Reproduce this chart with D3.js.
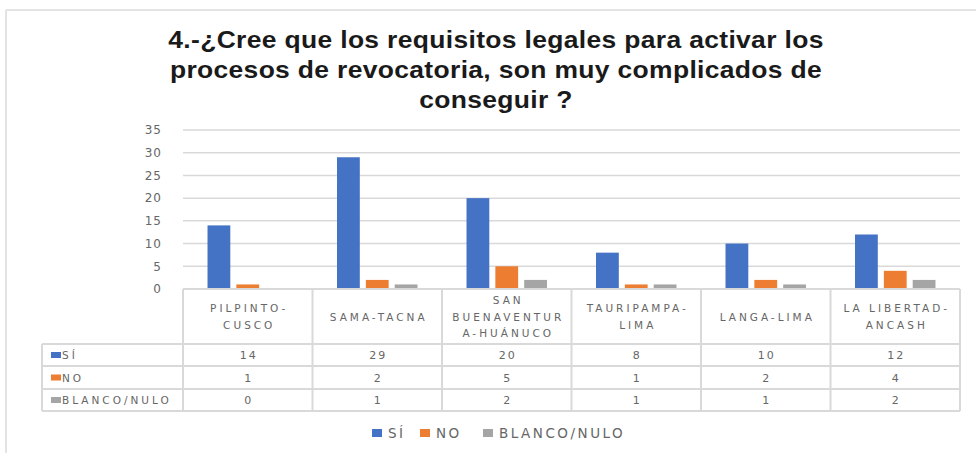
<!DOCTYPE html>
<html><head><meta charset="utf-8">
<script src="https://cdn.jsdelivr.net/npm/d3@7"></script>
<style>body{margin:0;background:#fff}svg{display:block}</style>
</head><body>
<svg id="c" width="976" height="453"></svg>
<script>
const categories = [["PILPINTO-","CUSCO"],["SAMA-TACNA"],["SAN","BUENAVENTUR","A-HUÁNUCO"],["TAURIPAMPA-","LIMA"],["LANGA-LIMA"],["LA LIBERTAD-","ANCASH"]];
const seriesNames = ["SÍ","NO","BLANCO/NULO"];
const siValues = [14,29,20,8,10,12];
const noValues = [1,2,5,1,2,4];
const blancoValues = [0,1,2,1,1,2];
const yTicks = [0,5,10,15,20,25,30,35];
const titleLines = ["4.-¿Cree que los requisitos legales para activar los","procesos de revocatoria, son muy complicados de","conseguir ?"];
const colors = ["#4472c4","#ed7d31","#a5a5a5"];
const series = [siValues,noValues,blancoValues];

(function(){
const svg = d3.select("#c");
const grid = "#d9d9d9", txt = "#666666";
svg.append("line").attr("x1",6).attr("x2",976).attr("y1",10).attr("y2",10).attr("stroke","#e3e3e3").attr("stroke-width",2);
svg.append("line").attr("x1",6).attr("x2",6).attr("y1",10).attr("y2",453).attr("stroke","#e3e3e3").attr("stroke-width",2);

const title = svg.append("g").attr("transform","translate(496,0) scale(1.15,1)")
  .append("text").attr("text-anchor","middle").attr("font-family","'Liberation Sans',Arial,sans-serif").attr("font-weight","bold").attr("font-size",23).attr("letter-spacing",0.3).attr("fill","#1a1a1a");
titleLines.forEach((t,i)=>title.append("tspan").attr("x",0).attr("y",48+i*30).text(t));

const pl = 183, pr = 960, pt = 130, pb = 289;
const x = d3.scaleBand().domain(d3.range(categories.length)).range([pl,pr]);
const y = d3.scaleLinear().domain([0,35]).range([pb,pt]);
const xs = d3.scaleBand().domain(d3.range(3)).range([0,x.bandwidth()]).paddingInner(0.21).paddingOuter(0.85);

svg.append("g").selectAll("line").data(yTicks.filter(d=>d>0)).join("line")
  .attr("x1",pl).attr("x2",pr).attr("y1",d=>y(d)).attr("y2",d=>y(d)).attr("stroke",grid).attr("stroke-width",1.5);
const yAxis = d3.axisLeft(y).tickValues(yTicks).tickSize(0).tickPadding(0);
const ga = svg.append("g").attr("transform",`translate(${pl-21},0)`).call(yAxis);
ga.select(".domain").remove();
ga.selectAll("text").attr("font-family","'DejaVu Sans',sans-serif").attr("font-size",12).attr("fill",txt).attr("letter-spacing",1);

series.forEach((vals,si)=>{
  svg.append("g").selectAll("rect").data(vals).join("rect")
    .attr("x",(d,i)=>x(i)+xs(si)).attr("width",xs.bandwidth())
    .attr("y",d=>y(d)).attr("height",d=>Math.max(0,pb-y(d)))
    .attr("fill",colors[si]);
});

const rowTops = [289,344,366,389,411];
const labelLeft = 42;
const tg = svg.append("g").attr("stroke",grid).attr("stroke-width",2).attr("fill","none");
x.domain().forEach(i=>tg.append("line").attr("x1",x(i)).attr("x2",x(i)).attr("y1",rowTops[0]).attr("y2",rowTops[4]));
tg.append("line").attr("x1",pr).attr("x2",pr).attr("y1",rowTops[0]).attr("y2",rowTops[4]);
tg.append("line").attr("x1",labelLeft).attr("x2",labelLeft).attr("y1",rowTops[1]).attr("y2",rowTops[4]);
tg.append("line").attr("x1",pl).attr("x2",pr).attr("y1",rowTops[0]).attr("y2",rowTops[0]);
[1,2,3,4].forEach(r=>tg.append("line").attr("x1",labelLeft).attr("x2",pr).attr("y1",rowTops[r]).attr("y2",rowTops[r]));

const tfont = "'DejaVu Sans',sans-serif";
categories.forEach((lines,i)=>{
  const cx = x(i)+x.bandwidth()/2;
  const cy = (rowTops[0]+rowTops[1])/2;
  const t = svg.append("text").attr("text-anchor","middle").attr("font-family",tfont).attr("font-size",10.5).attr("fill",txt).attr("letter-spacing",3);
  lines.forEach((l,k)=>t.append("tspan").attr("x",cx+1.5).attr("y",cy+4+(k-(lines.length-1)/2)*16.5).text(l));
});
series.forEach((vals,si)=>{
  const cy = (rowTops[si+1]+rowTops[si+2])/2;
  svg.append("rect").attr("x",51).attr("y",cy-3).attr("width",10).attr("height",6).attr("fill",colors[si]);
  svg.append("text").attr("x",62).attr("y",cy+4).attr("font-family",tfont).attr("font-size",10.5).attr("fill",txt).attr("letter-spacing",3).text(seriesNames[si]);
  svg.append("g").selectAll("text").data(vals).join("text")
    .attr("x",(d,i)=>x(i)+x.bandwidth()/2+1).attr("y",cy+4).attr("text-anchor","middle")
    .attr("font-family",tfont).attr("font-size",11).attr("fill",txt).attr("letter-spacing",2).text(d=>d);
});

const legX = [372,420,483];
seriesNames.forEach((n,i)=>{
  svg.append("rect").attr("x",legX[i]).attr("y",429).attr("width",10).attr("height",8).attr("fill",colors[i]);
  svg.append("text").attr("x",legX[i]+16).attr("y",438).attr("font-family",tfont).attr("font-size",13.5).attr("fill",txt).attr("letter-spacing",2.5).text(n);
});
})();
</script>
</body></html>
